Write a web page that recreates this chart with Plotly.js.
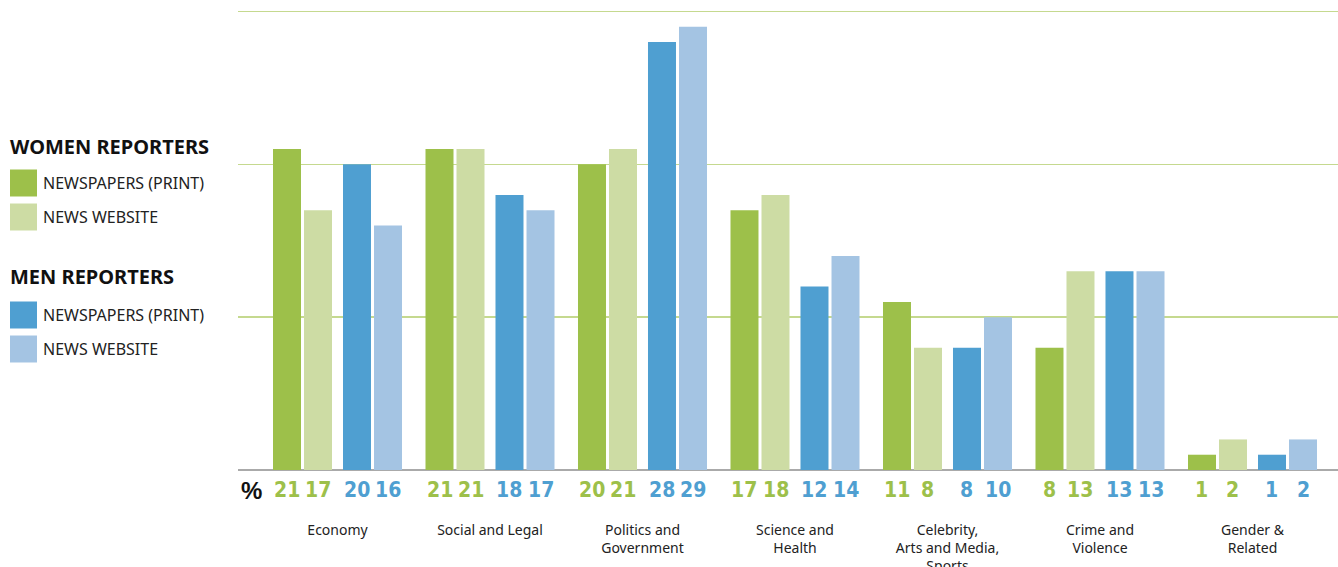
<!DOCTYPE html>
<html><head><meta charset="utf-8">
<script src="https://cdn.plot.ly/plotly-3.0.1.min.js"></script>
<style>html,body{margin:0;padding:0;background:#fff}#chart{width:1338px;height:567px}</style>
</head><body><div id="chart"></div>
<script>
var categories = ["Economy","Social and Legal","Politics and<br>Government","Science and<br>Health","Celebrity,<br>Arts and Media,<br>Sports","Crime and<br>Violence","Gender &<br>Related"];
var womenPrint = [21,21,20,17,11,8,1];
var womenWeb   = [17,21,21,18,8,13,2];
var menPrint   = [20,18,28,12,8,13,1];
var menWeb     = [16,17,29,14,10,13,2];
var seriesNames = ["Women – Newspapers (print)","Women – News website","Men – Newspapers (print)","Men – News website"];

var colors = ["#9dc04a","#cddca4","#4f9fd1","#a4c4e3"];
var labelColors = ["#9dc04a","#9dc04a","#4f9fd1","#4f9fd1"];
var offsets = [-0.423,-0.2197,0.036,0.2394];
var bw = 0.1836;
var series = [womenPrint, womenWeb, menPrint, menWeb];

var L = 238, W = 1100, T = 10, H = 460;
function px(x){return (x-L)/W;}
function py(y){return 1-(y-T)/H;}

var traces = series.map(function(vals,k){
  return {type:"bar", x:categories, y:vals, name:seriesNames[k],
    marker:{color:colors[k]}, width:bw, offset:offsets[k], showlegend:false, hoverinfo:"x+y"};
});

var numFont = "DejaVu Sans Condensed, sans-serif";
var annotations = [];
series.forEach(function(vals,k){
  vals.forEach(function(v,i){
    annotations.push({x:i+offsets[k]+bw/2, y:0, xref:"x", yref:"y", text:"<b>"+v+"</b>", showarrow:false,
      xanchor:"center", yanchor:"middle", yshift:-20, font:{family:numFont, size:21, color:labelColors[k]}});
  });
});
annotations.push({x:px(251.5), y:0, xref:"paper", yref:"y", text:"<b>%</b>", showarrow:false, xanchor:"center", yanchor:"middle", yshift:-20,
  font:{family:"Liberation Sans, Open Sans, sans-serif", size:24, color:"#111"}});

var legendFont = "Noto Sans, Open Sans, sans-serif";
var shapes = [];
var legItems = [
  {title:"WOMEN REPORTERS", ty:146, items:[{c:colors[0],t:"NEWSPAPERS (PRINT)",y:183},{c:colors[1],t:"NEWS WEBSITE",y:217}]},
  {title:"MEN REPORTERS", ty:276, items:[{c:colors[2],t:"NEWSPAPERS (PRINT)",y:315},{c:colors[3],t:"NEWS WEBSITE",y:349}]}
];
legItems.forEach(function(g){
  annotations.push({x:px(8), y:py(g.ty), xref:"paper", yref:"paper", xanchor:"left", yanchor:"middle", showarrow:false,
    text:"<b>"+g.title+"</b>", font:{family:legendFont, size:20, color:"#111"}});
  g.items.forEach(function(it){
    shapes.push({type:"rect", xref:"paper", yref:"paper", x0:px(10), x1:px(37), y0:py(it.y-13.5), y1:py(it.y+13.5), fillcolor:it.c, line:{width:0}});
    annotations.push({x:px(41), y:py(it.y), xref:"paper", yref:"paper", xanchor:"left", yanchor:"middle", showarrow:false,
      text:it.t, font:{family:legendFont, size:16, color:"#222"}});
  });
});

var layout = {
  width:1338, height:567, margin:{l:L, r:0, t:T, b:97},
  paper_bgcolor:"#fff", plot_bgcolor:"#fff",
  barmode:"overlay", showlegend:false,
  xaxis:{type:"category", range:[-0.6525,6.5607], showgrid:false, zeroline:false, showline:false,
    ticks:"", ticklabelstandoff:50, tickfont:{family:"Noto Sans, Open Sans, sans-serif", size:14, color:"#222"}},
  yaxis:{range:[0,30.1], tickvals:[0,10,20,30], showticklabels:false, gridcolor:"#c5d98f", gridwidth:1.6,
    zeroline:true, zerolinecolor:"#aaaaaa", zerolinewidth:1.5, showline:false, ticks:""},
  annotations:annotations, shapes:shapes
};
Plotly.newPlot("chart", traces, layout, {displayModeBar:false, staticPlot:true});
</script></body></html>
